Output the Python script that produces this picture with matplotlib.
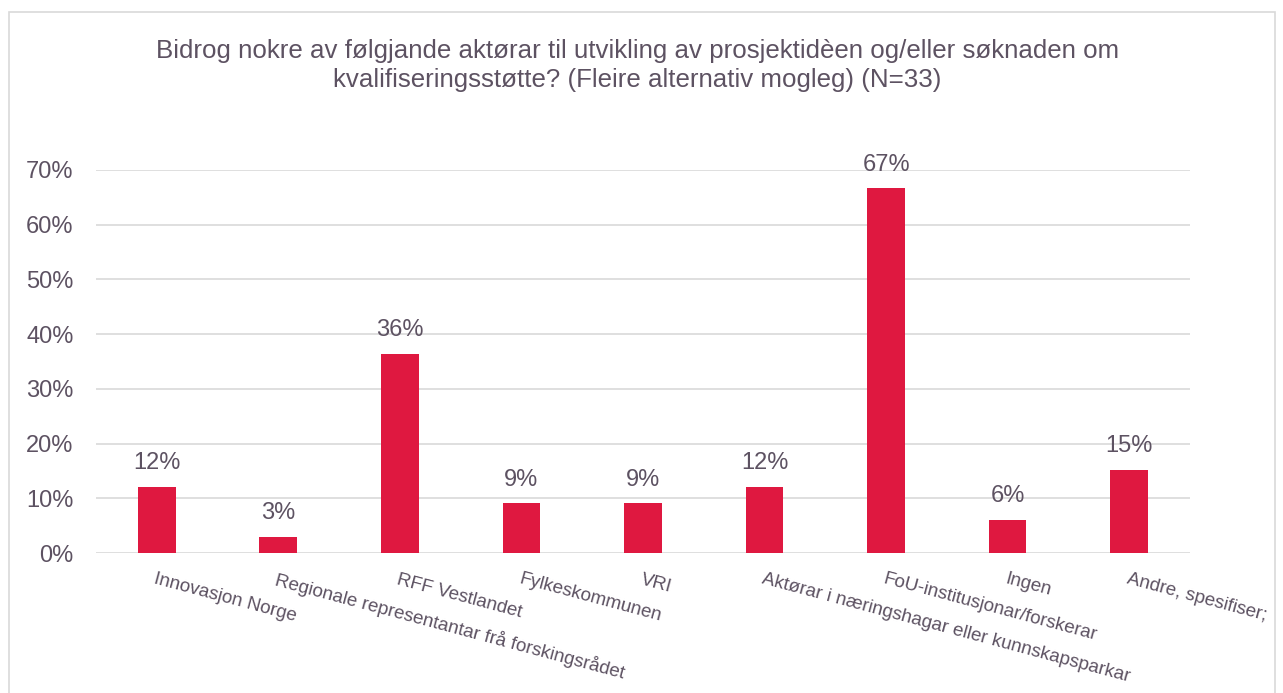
import numpy as np
import matplotlib.pyplot as plt
from matplotlib.patches import Rectangle
from matplotlib.ticker import PercentFormatter

plt.rcParams['font.family'] = ['Liberation Sans', 'DejaVu Sans']

# Data
categories = [
    "Innovasjon Norge",
    "Regionale representantar frå forskingsrådet",
    "RFF Vestlandet",
    "Fylkeskommunen",
    "VRI",
    "Aktørar i næringshagar eller kunnskapsparkar",
    "FoU-institusjonar/forskerar",
    "Ingen",
    "Andre, spesifiser;",
]
shares = [0.121, 0.030, 0.364, 0.091, 0.091, 0.121, 0.667, 0.061, 0.152]
title = ("Bidrog nokre av følgjande aktørar til utvikling av prosjektidèen og/eller søknaden om\n"
         "kvalifiseringsstøtte? (Fleire alternativ mogleg) (N=33)")

text_col = '#5D5262'
bar_col = '#DF1840'
grid_col = '#D9D9D9'

fig = plt.figure(figsize=(12.83, 6.93), dpi=100)
ax = fig.add_axes([0.0748, 0.202, 0.8527, 0.5527])

x = np.arange(len(categories))
bars = ax.bar(x, shares, width=0.31, color=bar_col, zorder=3)

# value labels above bars
for xi, v in zip(x, shares):
    ax.annotate(f"{v:.0%}", (xi, v), xytext=(0, 9), textcoords='offset points',
                ha='center', va='bottom', fontsize=17, color=text_col)

ax.set_xlim(-0.5, len(categories) - 0.5)
ax.set_ylim(0, 0.7)
ax.set_yticks(np.arange(0, 0.71, 0.1))
ax.yaxis.set_major_formatter(PercentFormatter(1.0, decimals=0))
ax.grid(axis='y', color=grid_col, linewidth=1.2, zorder=0)
for s in ax.spines.values():
    s.set_visible(False)
ax.tick_params(axis='y', length=0, pad=16, labelsize=17, labelcolor=text_col)
ax.tick_params(axis='x', length=0, pad=13)

ax.set_xticks(x)
ax.set_xticklabels(categories, rotation=-15, rotation_mode='anchor',
                   ha='left', va='top', fontsize=13.5, color=text_col)

# va='baseline' sits on the last line's baseline
fig.text(0.497, 1 - 87 / 693, title, ha='center', va='baseline', fontsize=18.6,
         color=text_col, linespacing=1.28)

# chart border
fig.patches.append(Rectangle((9 / 1283, -0.01), 1266 / 1283, 1 - 12 / 693 + 0.01,
                             transform=fig.transFigure, fill=False,
                             edgecolor=grid_col, linewidth=1.2))

plt.savefig("out.png", dpi=100)
